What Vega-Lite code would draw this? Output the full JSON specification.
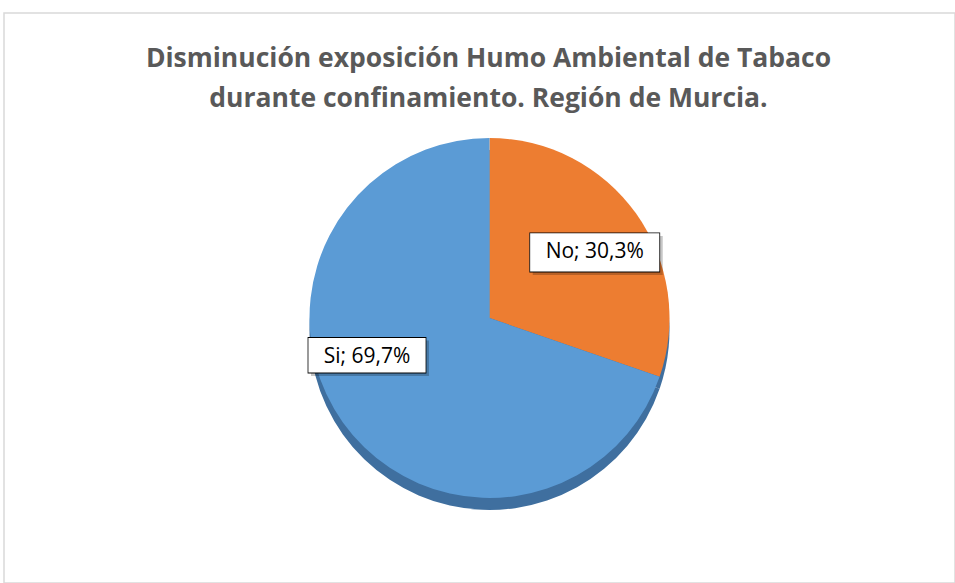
{
  "$schema": "https://vega.github.io/schema/vega-lite/v6.json",
  "width": 955,
  "height": 583,
  "autosize": {"type": "fit", "contains": "padding"},
  "padding": {"left": 4, "top": 13, "right": 0, "bottom": 0},
  "background": "white",
  "view": {"stroke": "#d9d9d9", "strokeWidth": 1.5},
  "title": {
    "text": ["Disminución exposición Humo Ambiental de Tabaco", "durante confinamiento. Región de Murcia."],
    "font": "Open Sans",
    "fontSize": 26.5,
    "fontWeight": "bold",
    "color": "#595959",
    "lineHeight": 40,
    "offset": -99,
    "dx": 9,
    "anchor": "middle"
  },
  "data": {
    "values": [
      {"categoria": "No", "porcentaje": 30.3, "etiqueta": "No; 30,3%"},
      {"categoria": "Si", "porcentaje": 69.7, "etiqueta": "Si; 69,7%"}
    ]
  },
  "encoding": {
    "theta": {"field": "porcentaje", "type": "quantitative", "stack": true}
  },
  "resolve": {"scale": {"theta": "independent", "size": "independent"}},
  "layer": [
    {
      "mark": {"type": "arc", "outerRadius": 180, "xOffset": 10, "yOffset": 32, "color": "#3f6f9f"}
    },
    {
      "mark": {"type": "arc", "outerRadius": 180, "xOffset": 10, "yOffset": 20},
      "encoding": {
        "color": {
          "field": "categoria",
          "type": "nominal",
          "scale": {"domain": ["No", "Si"], "range": ["#ed7d31", "#5b9bd5"]},
          "legend": null
        }
      }
    },
    {
      "mark": {"type": "text", "radius": 127, "xOffset": 13, "yOffset": 9, "font": "Liberation Sans", "fill": "#000000", "opacity": 0.22, "baseline": "middle", "align": "center", "text": "▬"},
      "encoding": {
        "theta": {"field": "porcentaje", "type": "quantitative", "stack": true, "scale": {"domain": [0, 15.15, 65.15, 100], "range": [0, 0.977, 4.445, 6.2832]}},
        "size": {"field": "categoria", "type": "nominal", "scale": {"domain": ["No", "Si"], "range": [130, 118]}, "legend": null}
      }
    },
    {
      "mark": {"type": "text", "radius": 127, "xOffset": 10, "yOffset": 6, "font": "Liberation Sans", "fill": "white", "stroke": "black", "strokeWidth": 0.8, "baseline": "middle", "align": "center", "text": "▬"},
      "encoding": {
        "theta": {"field": "porcentaje", "type": "quantitative", "stack": true, "scale": {"domain": [0, 15.15, 65.15, 100], "range": [0, 0.977, 4.445, 6.2832]}},
        "size": {"field": "categoria", "type": "nominal", "scale": {"domain": ["No", "Si"], "range": [130, 118]}, "legend": null}
      }
    },
    {
      "mark": {"type": "text", "radius": 127, "xOffset": 10, "yOffset": 25, "font": "Open Sans", "fontSize": 21, "color": "#000000", "baseline": "middle", "align": "center"},
      "encoding": {
        "theta": {"field": "porcentaje", "type": "quantitative", "stack": true, "scale": {"domain": [0, 15.15, 65.15, 100], "range": [0, 0.977, 4.445, 6.2832]}},
        "text": {"field": "etiqueta", "type": "nominal"}
      }
    }
  ]
}
